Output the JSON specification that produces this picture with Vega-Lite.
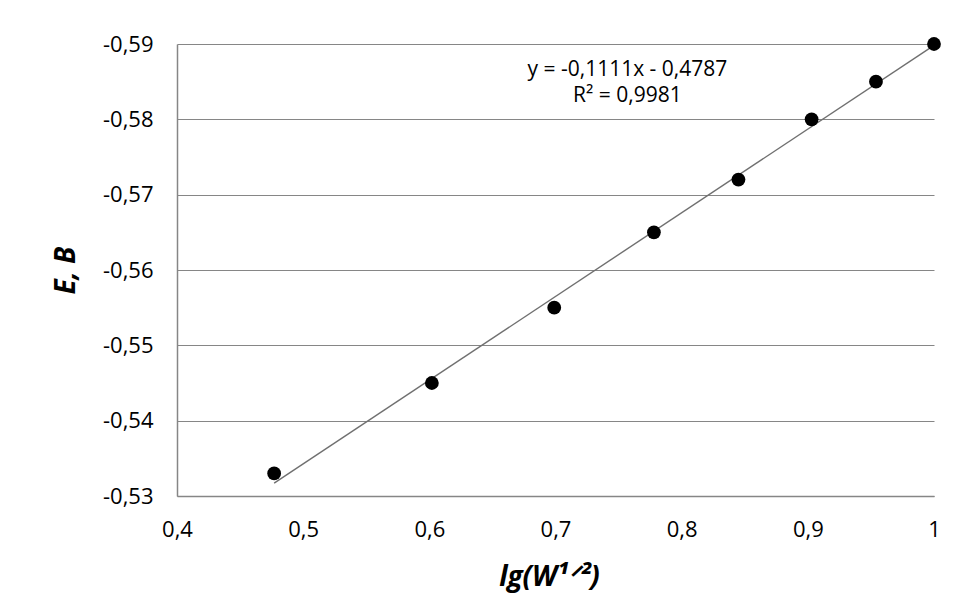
{
  "$schema": "https://vega.github.io/schema/vega-lite/v6.json",
  "width": 757,
  "height": 452,
  "autosize": {"type": "none"},
  "padding": {"left": 177, "top": 44, "right": 23, "bottom": 112},
  "background": "white",
  "config": {
    "locale": {"number": {"decimal": ",", "thousands": " ", "grouping": [3], "currency": ["", ""], "minus": "-"}},
    "view": {"stroke": null},
    "font": "Open Sans",
    "axis": {
      "domainColor": "#868686",
      "domainWidth": 1.5,
      "gridColor": "#868686",
      "gridWidth": 1,
      "ticks": false,
      "labelFont": "Open Sans",
      "labelFontSize": 22,
      "labelColor": "#000000",
      "titleFont": "Open Sans",
      "titleFontSize": 28,
      "titleFontWeight": "bold",
      "titleFontStyle": "italic",
      "titleColor": "#000000"
    }
  },
  "layer": [
    {
      "data": {
        "values": [
          {"x": 0.477, "y": -0.533},
          {"x": 0.602, "y": -0.545},
          {"x": 0.699, "y": -0.555},
          {"x": 0.778, "y": -0.565},
          {"x": 0.845, "y": -0.572},
          {"x": 0.903, "y": -0.580},
          {"x": 0.954, "y": -0.585},
          {"x": 1.0, "y": -0.590}
        ],
        "name": "pts"
      },
      "layer": [
        {
          "transform": [{"regression": "y", "on": "x"}],
          "mark": {"type": "line", "color": "#707070", "strokeWidth": 1.4},
          "encoding": {
            "x": {"field": "x", "type": "quantitative"},
            "y": {"field": "y", "type": "quantitative"}
          }
        },
        {
          "mark": {"type": "point", "filled": true, "color": "#000000", "opacity": 1, "size": 190},
          "encoding": {
            "x": {
              "field": "x", "type": "quantitative",
              "scale": {"domain": [0.4, 1], "nice": false, "zero": false},
              "axis": {
                "values": [0.4, 0.5, 0.6, 0.7, 0.8, 0.9, 1],
                "format": "~g",
                "grid": false,
                "labelPadding": 23,
                "labelFlush": false,
                "title": "lg(W¹ᐟ²)",
                "titleBaseline": "middle",
                "titleY": 81,
                "titleX": 372
              }
            },
            "y": {
              "field": "y", "type": "quantitative",
              "scale": {"domain": [-0.59, -0.53], "nice": false, "zero": false, "reverse": true},
              "axis": {
                "values": [-0.59, -0.58, -0.57, -0.56, -0.55, -0.54, -0.53],
                "format": ".2f",
                "grid": true,
                "labelPadding": 24,
                "labelFlush": false,
                "title": "E, В",
                "titleBaseline": "middle",
                "titleX": -111,
                "titleY": 226
              }
            }
          }
        }
      ]
    },
    {
      "data": {"values": [{"label": "y = -0,1111x - 0,4787"}]},
      "mark": {"type": "text", "font": "Open Sans", "fontSize": 21, "align": "center", "baseline": "middle", "color": "#000000"},
      "encoding": {
        "x": {"datum": 0.757, "type": "quantitative"},
        "y": {"datum": -0.5865, "type": "quantitative"},
        "text": {"field": "label"}
      }
    },
    {
      "data": {"values": [{"label": "R² = 0,9981"}]},
      "mark": {"type": "text", "font": "Open Sans", "fontSize": 21, "align": "center", "baseline": "middle", "color": "#000000"},
      "encoding": {
        "x": {"datum": 0.757, "type": "quantitative"},
        "y": {"datum": -0.5831, "type": "quantitative"},
        "text": {"field": "label"}
      }
    }
  ]
}
